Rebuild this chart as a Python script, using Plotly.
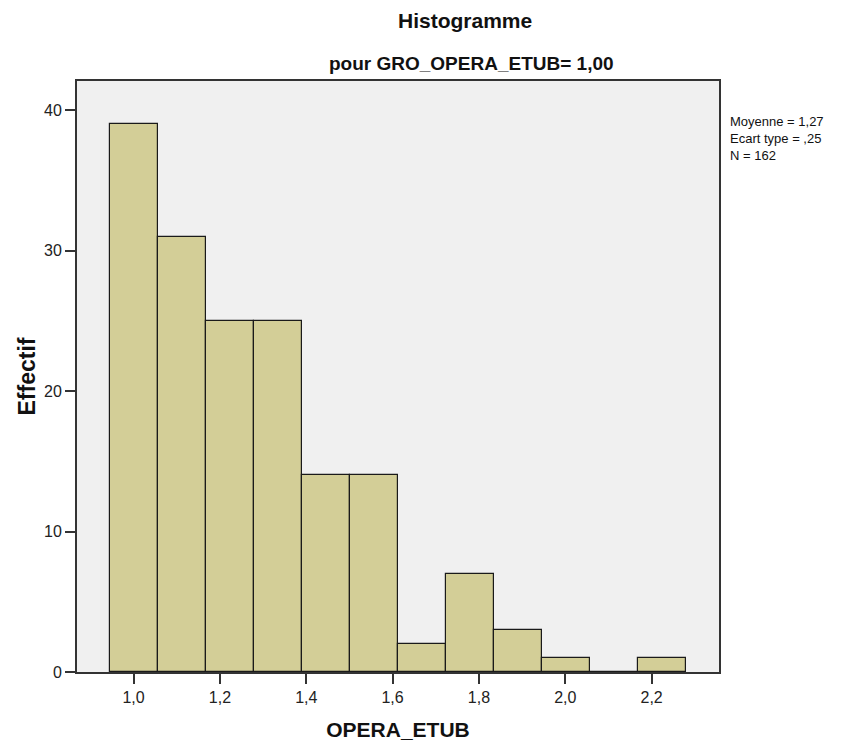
import plotly.graph_objects as go

# Histogram of OPERA_ETUB for the group GRO_OPERA_ETUB = 1,00
bin_start = 1.0          # centre of the first class
bin_width = 0.1112       # class width
counts = [39, 31, 25, 25, 14, 14, 2, 7, 3, 1, 0, 1]
x_ticks = [1.0, 1.2, 1.4, 1.6, 1.8, 2.0, 2.2]
y_ticks = [0, 10, 20, 30, 40]
stats_lines = ["Moyenne = 1,27", "Ecart type = ,25", "N = 162"]

centers = [bin_start + i * bin_width for i in range(len(counts))]

font_main = "Arial, Liberation Sans, sans-serif"

fig = go.Figure(
    go.Bar(
        x=centers,
        y=counts,
        width=bin_width,
        marker=dict(color="#D3CE97", line=dict(color="#1a1a1a", width=1.2)),
        hoverinfo="x+y",
    )
)

fig.update_layout(
    width=849,
    height=743,
    margin=dict(l=77, r=130, t=81, b=71),
    paper_bgcolor="white",
    plot_bgcolor="#F0F0F0",
    separators=", ",
    showlegend=False,
    bargap=0,
    font=dict(family=font_main, size=13, color="#222"),
)

fig.update_xaxes(
    range=[0.869, 2.356],
    automargin=False,
    tickmode="array",
    tickvals=x_ticks,
    tickformat=".1f",
    ticks="outside",
    ticklen=10,
    tickwidth=1.5,
    tickcolor="#333",
    showgrid=False,
    zeroline=False,
    showline=True,
    linecolor="#333",
    linewidth=2,
    mirror=True,
    tickfont=dict(family=font_main, size=16, color="#222"),
    title=dict(text="<b>OPERA_ETUB</b>", font=dict(family=font_main, size=21, color="#111"), standoff=17),
)

fig.update_yaxes(
    range=[0, 42.08],
    automargin=False,
    tickmode="array",
    tickvals=y_ticks,
    ticks="outside",
    ticklen=10,
    tickwidth=1.5,
    tickcolor="#333",
    showgrid=False,
    zeroline=False,
    showline=True,
    linecolor="#333",
    linewidth=2,
    mirror=True,
    tickfont=dict(family=font_main, size=16, color="#222"),
    title=dict(text="<b>Effectif</b>", font=dict(family=font_main, size=23, color="#111"), standoff=2),
)

# Main title and subtitle
fig.add_annotation(
    text="<b>Histogramme</b>", xref="paper", yref="paper",
    x=0.605, y=1.0, yshift=61, xanchor="center", yanchor="middle",
    showarrow=False, font=dict(family=font_main, size=21, color="#111"),
)
fig.add_annotation(
    text="<b>pour GRO_OPERA_ETUB= 1,00</b>", xref="paper", yref="paper",
    x=0.614, y=1.0, yshift=18, xanchor="center", yanchor="middle",
    showarrow=False, font=dict(family=font_main, size=19, color="#111"),
)

# Summary statistics to the right of the plot
fig.add_annotation(
    text="<br>".join(stats_lines), xref="paper", yref="paper",
    x=1.0, xshift=9, y=1.0, yshift=-31, xanchor="left", yanchor="top",
    align="left", showarrow=False,
    font=dict(family=font_main, size=13, color="#111"),
)

fig.write_html("out.html")
